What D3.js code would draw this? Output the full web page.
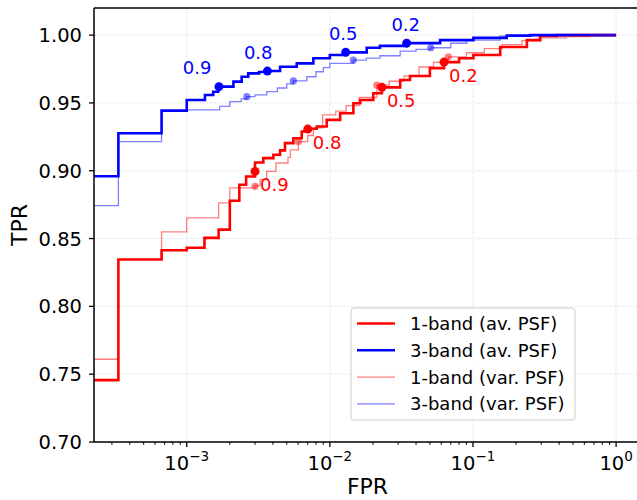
<!DOCTYPE html>
<html>
<head>
<meta charset="utf-8">
<script src="https://cdn.jsdelivr.net/npm/d3@7"></script>
<style>
	body { margin: 0; background: #fff; }
	text { font-family: 'DejaVu Sans', sans-serif; }
</style>
</head>
<body>
<div id="chart"></div>
<script>
// ROC curves, values
const oneBandAvFpr = [1e-5, 3.33e-4, 6.67e-4, 1.0e-3, 1.33e-3, 1.67e-3, 2.0e-3, 2.33e-3, 2.6e-3, 3.0e-3, 3.43e-3, 4.03e-3, 4.49e-3, 4.86e-3, 5.56e-3, 6.36e-3, 6.9e-3, 8.1e-3, 9.51e-3, 1.18e-2, 1.46e-2, 1.63e-2, 2.01e-2, 2.31e-2, 3.1e-2, 3.63e-2, 5.0e-2, 6.28e-2, 8.0e-2, 0.1007, 0.155, 0.238, 0.294, 0.385, 1.0];
const oneBandAvTpr = [0.7456, 0.8346, 0.8414, 0.8432, 0.8505, 0.8566, 0.8779, 0.8897, 0.8958, 0.9061, 0.9093, 0.9118, 0.915, 0.9204, 0.924, 0.9289, 0.931, 0.9326, 0.9375, 0.9424, 0.9498, 0.9522, 0.9571, 0.9615, 0.9669, 0.9699, 0.9757, 0.9801, 0.983, 0.9853, 0.9912, 0.9963, 0.9993, 1.0, 1.0];

const threeBandAvFpr = [1e-5, 3.33e-4, 6.67e-4, 1.0e-3, 1.34e-3, 1.53e-3, 1.66e-3, 2.12e-3, 2.42e-3, 2.69e-3, 3.2e-3, 3.66e-3, 4.49e-3, 5.87e-3, 7.67e-3, 1.0e-2, 1.29e-2, 1.81e-2, 2.24e-2, 3.44e-2, 5.89e-2, 0.1007, 0.172, 0.25, 1.0];
const threeBandAvTpr = [0.896, 0.9277, 0.9443, 0.9522, 0.9559, 0.9583, 0.962, 0.9657, 0.9693, 0.9718, 0.9728, 0.9735, 0.9767, 0.9792, 0.9829, 0.9853, 0.9873, 0.9907, 0.9921, 0.9941, 0.9963, 0.998, 0.9996, 1.0, 1.0];

const oneBandVarFpr = [1e-5, 3.33e-4, 6.67e-4, 1.0e-3, 1.67e-3, 2.0e-3, 3.0e-3, 3.26e-3, 3.62e-3, 4.2e-3, 5.1e-3, 5.3e-3, 6.03e-3, 7.0e-3, 7.67e-3, 8.9e-3, 1.1e-2, 1.3e-2, 1.6e-2, 2.13e-2, 2.6e-2, 3.3e-2, 4.2e-2, 5.3e-2, 6.73e-2, 9.0e-2, 0.12, 0.16, 0.22, 0.3, 0.45, 0.66, 1.0];
const oneBandVarTpr = [0.761, 0.8346, 0.855, 0.8652, 0.8763, 0.8873, 0.889, 0.8934, 0.8995, 0.9057, 0.9098, 0.9154, 0.9215, 0.926, 0.9316, 0.9412, 0.944, 0.948, 0.954, 0.9632, 0.966, 0.970, 0.9765, 0.980, 0.984, 0.987, 0.990, 0.993, 0.996, 0.998, 0.999, 1.0, 1.0];

const threeBandVarFpr = [1e-5, 3.33e-4, 6.67e-4, 1.0e-3, 1.7e-3, 2.0e-3, 2.4e-3, 2.63e-3, 3.0e-3, 3.62e-3, 4.3e-3, 5.0e-3, 5.56e-3, 6.9e-3, 8.0e-3, 9.0e-3, 1.0e-2, 1.46e-2, 1.8e-2, 2.24e-2, 3.1e-2, 4.0e-2, 5.07e-2, 7.0e-2, 9.05e-2, 0.155, 0.263, 1.0];
const threeBandVarTpr = [0.8743, 0.9215, 0.9443, 0.9449, 0.9475, 0.951, 0.953, 0.9546, 0.956, 0.9583, 0.961, 0.964, 0.9662, 0.9693, 0.973, 0.976, 0.9792, 0.9816, 0.983, 0.9848, 0.9882, 0.9895, 0.9907, 0.994, 0.9963, 0.9993, 1.0, 1.0];

// threshold markers
const thresholds = ['0.9', '0.8', '0.5', '0.2'];
const oneBandAvMarkFpr = [3.0e-3, 7.01e-3, 2.31e-2, 6.28e-2];
const oneBandAvMarkTpr = [0.8995, 0.9307, 0.9615, 0.9801];
const threeBandAvMarkFpr = [1.68e-3, 3.66e-3, 1.29e-2, 3.44e-2];
const threeBandAvMarkTpr = [0.962, 0.9735, 0.9873, 0.9941];
const oneBandVarMarkFpr = [3.0e-3, 6.03e-3, 2.13e-2, 6.73e-2];
const oneBandVarMarkTpr = [0.8885, 0.9215, 0.9632, 0.984];
const threeBandVarMarkFpr = [2.63e-3, 5.56e-3, 1.46e-2, 5.07e-2];
const threeBandVarMarkTpr = [0.9546, 0.9662, 0.9816, 0.9907];

const yTicks = [0.70, 0.75, 0.80, 0.85, 0.90, 0.95, 1.00];
const xTickExps = [-3, -2, -1, 0];
const legendLabels = ['1-band (av. PSF)', '3-band (av. PSF)', '1-band (var. PSF)', '3-band (var. PSF)'];

const W = 637, H = 500;
const margin = { left: 94, top: 8, right: -4, bottom: 58 };

const x = d3.scaleLog()
	.domain([Math.pow(10, -3.648), Math.pow(10, 0.174)])
	.range([margin.left, W - margin.right]);
const y = d3.scaleLinear()
	.domain([0.70, 1.02])
	.range([H - margin.bottom, margin.top]);

const svg = d3.select('#chart')
	.append('svg')
	.attr('width', W)
	.attr('height', H)
	.style('display', 'block');

svg.append('defs').append('clipPath').attr('id', 'plot-clip')
	.append('rect')
	.attr('x', x.range()[0]).attr('y', y.range()[1])
	.attr('width', x.range()[1] - x.range()[0])
	.attr('height', y.range()[0] - y.range()[1]);

// grid
const grid = svg.append('g')
	.attr('stroke', '#e4e4e4')
	.attr('stroke-width', 0.9)
	.attr('stroke-dasharray', '2.5,1.5');
yTicks.forEach((t) => {
	grid.append('line')
		.attr('x1', x.range()[0]).attr('x2', x.range()[1])
		.attr('y1', y(t)).attr('y2', y(t));
});
xTickExps.forEach((e) => {
	grid.append('line')
		.attr('x1', x(Math.pow(10, e))).attr('x2', x(Math.pow(10, e)))
		.attr('y1', y.range()[0]).attr('y2', y.range()[1]);
});

// series
const series = [
	{ fpr: oneBandAvFpr, tpr: oneBandAvTpr, mf: oneBandAvMarkFpr, mt: oneBandAvMarkTpr, color: '#ff0000', width: 2.6, opacity: 1, r: 4.5 },
	{ fpr: threeBandAvFpr, tpr: threeBandAvTpr, mf: threeBandAvMarkFpr, mt: threeBandAvMarkTpr, color: '#0000ff', width: 2.6, opacity: 1, r: 4.5 },
	{ fpr: oneBandVarFpr, tpr: oneBandVarTpr, mf: oneBandVarMarkFpr, mt: oneBandVarMarkTpr, color: '#ff0000', width: 1.3, opacity: 0.5, r: 3.6 },
	{ fpr: threeBandVarFpr, tpr: threeBandVarTpr, mf: threeBandVarMarkFpr, mt: threeBandVarMarkTpr, color: '#0000ff', width: 1.3, opacity: 0.5, r: 3.6 },
];

const line = d3.line()
	.x((d) => x(d[0]))
	.y((d) => y(d[1]))
	.curve(d3.curveStepAfter);

const plot = svg.append('g').attr('clip-path', 'url(#plot-clip)');

series.forEach((s) => {
	const pts = s.fpr.map((f, i) => [f, s.tpr[i]]);
	plot.append('path')
		.attr('d', line(pts))
		.attr('fill', 'none')
		.attr('stroke', s.color)
		.attr('stroke-width', s.width)
		.attr('stroke-opacity', s.opacity)
		.attr('stroke-linejoin', 'miter');

	plot.selectAll(null)
		.data(s.mf.map((f, i) => [f, s.mt[i]]))
		.enter()
		.append('circle')
		.attr('cx', (d) => x(d[0]))
		.attr('cy', (d) => y(d[1]))
		.attr('r', s.r)
		.attr('fill', s.color)
		.attr('fill-opacity', s.opacity);
});

// threshold labels for the av. PSF curves
const labels = svg.append('g').style('font-size', '18px');
oneBandAvMarkFpr.forEach((f, i) => {
	labels.append('text')
		.attr('x', x(f) + 5)
		.attr('y', y(oneBandAvMarkTpr[i]) + 13)
		.attr('dy', '0.36em')
		.attr('fill', '#ff0000')
		.text(thresholds[i]);
});
threeBandAvMarkFpr.forEach((f, i) => {
	labels.append('text')
		.attr('x', x(f - 0.0005))
		.attr('y', y(threeBandAvMarkTpr[i]) - 19)
		.attr('dy', '0.36em')
		.attr('text-anchor', 'middle')
		.attr('fill', '#0000ff')
		.text(thresholds[i]);
});

// axes
const axes = svg.append('g');
const x0 = x.range()[0], x1 = x.range()[1];
const y0 = y.range()[0], y1 = y.range()[1];

// y ticks and labels
yTicks.forEach((t) => {
	axes.append('line')
		.attr('x1', x0 - 5).attr('x2', x0)
		.attr('y1', y(t)).attr('y2', y(t))
		.attr('stroke', '#000').attr('stroke-width', 1.3);
	axes.append('text')
		.attr('x', x0 - 12)
		.attr('y', y(t))
		.attr('dy', '0.36em')
		.attr('text-anchor', 'end')
		.style('font-size', '19.5px')
		.text(d3.format('.2f')(t));
});

// x minor ticks
const minor = [];
for (let e = -4; e <= 0; e++) {
	for (let k = 2; k <= 9; k++) {
		const v = k * Math.pow(10, e);
		if (v > x.domain()[0] && v < x.domain()[1]) minor.push(v);
	}
}
minor.forEach((v) => {
	axes.append('line')
		.attr('x1', x(v)).attr('x2', x(v))
		.attr('y1', y0).attr('y2', y0 + 2.8)
		.attr('stroke', '#000').attr('stroke-width', 1);
});

// x major ticks with 10^n labels
xTickExps.forEach((e) => {
	const px = x(Math.pow(10, e));
	axes.append('line')
		.attr('x1', px).attr('x2', px)
		.attr('y1', y0).attr('y2', y0 + 5)
		.attr('stroke', '#000').attr('stroke-width', 1.3);
	const t = axes.append('text')
		.attr('x', px)
		.attr('y', y0 + 28)
		.attr('text-anchor', 'middle')
		.style('font-size', '19.5px');
	t.append('tspan').text('10');
	t.append('tspan')
		.attr('dy', -9)
		.style('font-size', '13.5px')
		.text(e < 0 ? '\u2212' + Math.abs(e) : String(e));
});

// spines
axes.append('line')
	.attr('x1', x0).attr('x2', x0).attr('y1', y1).attr('y2', y0)
	.attr('stroke', '#000').attr('stroke-width', 1.5);
axes.append('line')
	.attr('x1', x0).attr('x2', x1).attr('y1', y0).attr('y2', y0)
	.attr('stroke', '#000').attr('stroke-width', 1.5);
axes.append('line')
	.attr('x1', x0).attr('x2', x1).attr('y1', y1).attr('y2', y1)
	.attr('stroke', '#000').attr('stroke-width', 1.5);

// axis titles
svg.append('text')
	.attr('x', (x0 + x1) / 2)
	.attr('y', 494)
	.attr('text-anchor', 'middle')
	.style('font-size', '22px')
	.text('FPR');
svg.append('text')
	.attr('transform', `translate(27,${(y0 + y1) / 2}) rotate(-90)`)
	.attr('text-anchor', 'middle')
	.style('font-size', '22px')
	.text('TPR');

// legend
const legend = svg.append('g').attr('transform', 'translate(351,308)');
legend.append('rect')
	.attr('width', 224).attr('height', 112)
	.attr('rx', 3)
	.attr('fill', '#fff').attr('fill-opacity', 0.8)
	.attr('stroke', '#cccccc').attr('stroke-width', 1);
series.forEach((s, i) => {
	const ly = 15.5 + i * 26.8;
	legend.append('line')
		.attr('x1', 6).attr('x2', 44)
		.attr('y1', ly).attr('y2', ly)
		.attr('stroke', s.color)
		.attr('stroke-opacity', s.opacity)
		.attr('stroke-width', s.width);
	legend.append('text')
		.attr('x', 59)
		.attr('y', ly)
		.attr('dy', '0.36em')
		.style('font-size', '18px')
		.text(legendLabels[i]);
});
</script>
</body>
</html>
